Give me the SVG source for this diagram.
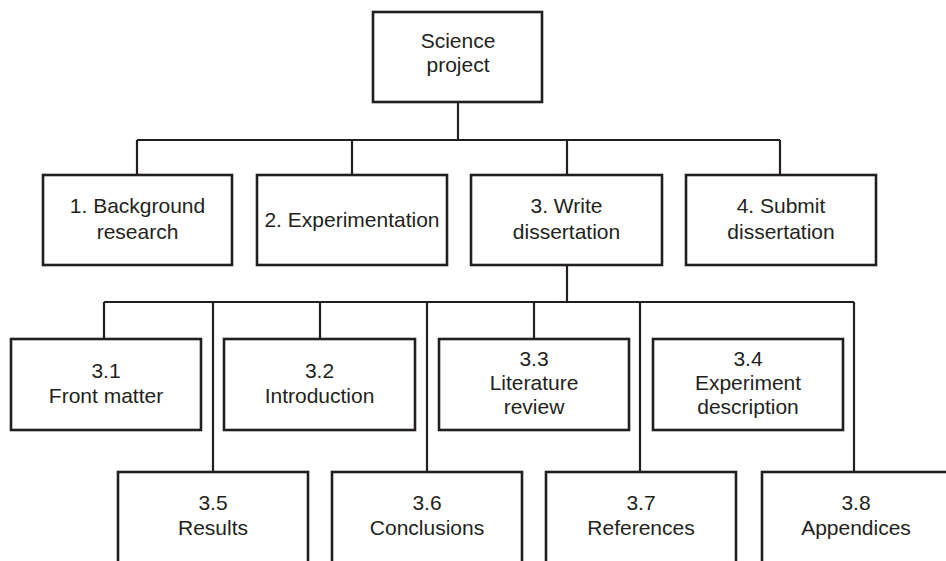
<svg xmlns="http://www.w3.org/2000/svg" width="946" height="561" viewBox="0 0 946 561">
  <style>
    .box { fill: #ffffff; stroke: #231f20; stroke-width: 2.6; }
    .wire { fill: none; stroke: #231f20; stroke-width: 2.2; }
    text { font-family: "Liberation Sans", Arial, sans-serif; font-size: 21px; fill: #231f20; text-anchor: middle; }
  </style>
  <rect width="946" height="561" fill="#ffffff"/>

  <!-- connectors -->
  <g id="connectors">
    <path class="wire" d="M458 102 V140 M137 140 H780 M137 140 V175 M352 140 V175 M567 140 V175 M780 140 V175"/>
    <path class="wire" d="M567 265 V302 M104 302 H854 M104 302 V339 M320 302 V339 M534 302 V339"/>
    <path class="wire" d="M213 302 V472 M427 302 V472 M640 302 V472 M854 302 V472"/>
  </g>

  <!-- root -->
  <g id="science-project">
    <rect class="box" x="373" y="12" width="169" height="90"/>
    <text x="458" y="48">Science</text>
    <text x="458" y="72">project</text>
  </g>

  <!-- level 1 -->
  <g id="n1">
    <rect class="box" x="43" y="175" width="189" height="90"/>
    <text x="137.5" y="213">1. Background</text>
    <text x="137.5" y="239">research</text>
  </g>
  <g id="n2">
    <rect class="box" x="257" y="175" width="190" height="90"/>
    <text x="352" y="227">2. Experimentation</text>
  </g>
  <g id="n3">
    <rect class="box" x="471" y="175" width="191" height="90"/>
    <text x="566.5" y="213">3. Write</text>
    <text x="566.5" y="239">dissertation</text>
  </g>
  <g id="n4">
    <rect class="box" x="686" y="175" width="190" height="90"/>
    <text x="781" y="213">4. Submit</text>
    <text x="781" y="239">dissertation</text>
  </g>

  <!-- level 2, upper row -->
  <g id="n3-1">
    <rect class="box" x="11" y="339" width="190" height="91"/>
    <text x="106" y="378">3.1</text>
    <text x="106" y="403">Front matter</text>
  </g>
  <g id="n3-2">
    <rect class="box" x="224" y="339" width="191" height="91"/>
    <text x="319.5" y="378">3.2</text>
    <text x="319.5" y="403">Introduction</text>
  </g>
  <g id="n3-3">
    <rect class="box" x="439" y="339" width="190" height="91"/>
    <text x="534" y="366">3.3</text>
    <text x="534" y="390">Literature</text>
    <text x="534" y="414">review</text>
  </g>
  <g id="n3-4">
    <rect class="box" x="653" y="339" width="190" height="91"/>
    <text x="748" y="366">3.4</text>
    <text x="748" y="390">Experiment</text>
    <text x="748" y="414">description</text>
  </g>

  <!-- level 2, lower row -->
  <g id="n3-5">
    <rect class="box" x="118" y="472" width="190" height="120"/>
    <text x="213" y="510">3.5</text>
    <text x="213" y="535">Results</text>
  </g>
  <g id="n3-6">
    <rect class="box" x="332" y="472" width="190" height="120"/>
    <text x="427" y="510">3.6</text>
    <text x="427" y="535">Conclusions</text>
  </g>
  <g id="n3-7">
    <rect class="box" x="546" y="472" width="190" height="120"/>
    <text x="641" y="510">3.7</text>
    <text x="641" y="535">References</text>
  </g>
  <g id="n3-8">
    <rect class="box" x="762" y="472" width="190" height="120"/>
    <text x="856" y="510">3.8</text>
    <text x="856" y="535">Appendices</text>
  </g>
</svg>
